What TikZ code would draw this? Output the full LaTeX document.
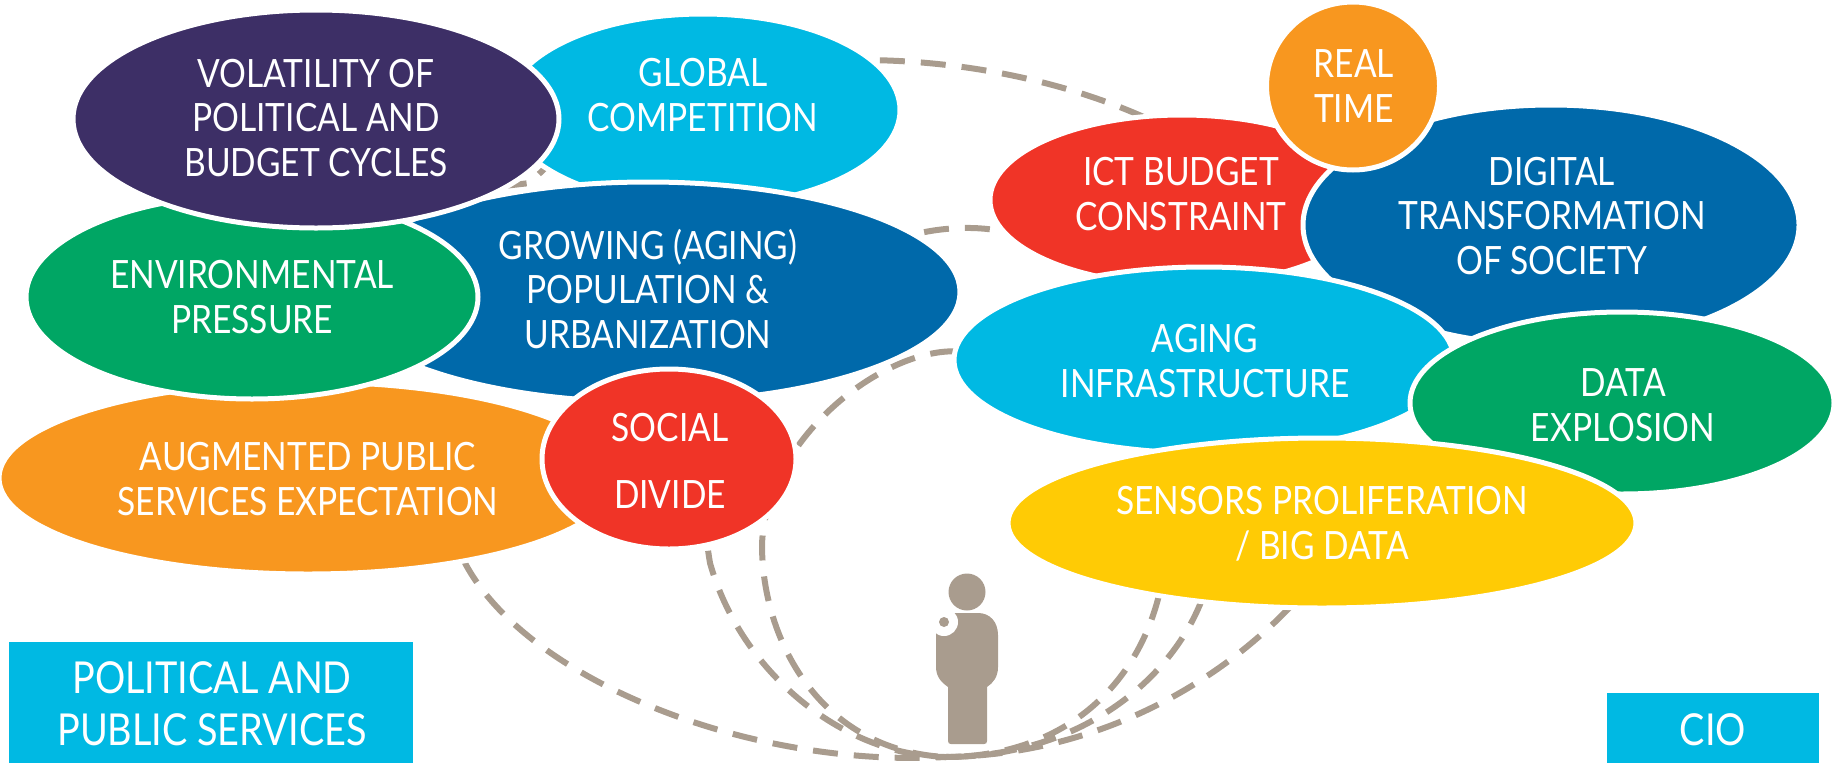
\documentclass[tikz,border=0pt]{standalone}
\usepackage{fontspec}
\setmainfont[FakeStretch=0.86]{Lato}
\usetikzlibrary{shapes.geometric,backgrounds}
\definecolor{cpurple}{HTML}{3D2F66}
\definecolor{ccyan}{HTML}{00B9E3}
\definecolor{cblue}{HTML}{0069AA}
\definecolor{cgreen}{HTML}{00A664}
\definecolor{corange}{HTML}{F8971F}
\definecolor{cred}{HTML}{F03427}
\definecolor{cyellow}{HTML}{FFCB05}
\definecolor{ctaupe}{HTML}{A99C8E}
\tikzset{
  bub/.style n args={3}{ellipse,draw=white,line width=5pt,outer sep=0pt,inner sep=0pt,fill=#3,minimum width=#1,minimum height=#2},
  txt/.style={text=white,align=center,inner sep=0pt,font=\fontsize{39}{44.7}\selectfont},
  txtbig/.style={text=white,align=center,inner sep=0pt,font=\fontsize{44}{52}\selectfont},
  boxx/.style={fill=ccyan,inner sep=0pt,outer sep=0pt,anchor=north west},
  arcline/.style={draw=ctaupe,line width=6pt,dash pattern=on 25pt off 16pt},
  figure/.style={fill=ctaupe}
}
\begin{document}
\begin{tikzpicture}[x=1pt,y=-1pt]
\useasboundingbox (0,0) rectangle (1835,763);
% left cluster
\node[bub={394}{192}{ccyan}] (glob) at (703,110) {};
\node[bub={624}{220}{cblue}] (grow) at (648,292) {};
\node[bub={618}{192}{corange}] (aug) at (308,478) {};
\node[bub={452}{204}{cgreen}] (env) at (252,297) {};
\node[bub={486}{218}{cpurple}] (vol) at (316,119) {};
\node[bub={254}{180}{cred}] (soc) at (669,459) {};
% right cluster
\node[bub={384}{170}{cred}] (ict) at (1182,200) {};
\node[bub={496}{240}{cblue}] (dig) at (1551,225) {};
\node[bub={173}{168}{corange}] (rt) at (1353,86) {};
\node[bub={500}{186}{ccyan}] (agi) at (1204,360) {};
\node[bub={424}{182}{cgreen}] (dat) at (1622,403) {};
\node[bub={628}{170}{cyellow}] (sen) at (1322,523) {};
% texts
\node[txt] (tvol) at (316,118) {VOLATILITY OF\\POLITICAL AND\\BUDGET CYCLES};
\node[txt] (tglob) at (703,95) {GLOBAL\\COMPETITION};
\node[txt] (tgrow) at (648,289) {GROWING (AGING)\\POPULATION \&\\URBANIZATION};
\node[txt] (tenv) at (252,297) {ENVIRONMENTAL\\PRESSURE};
\node[txt] (taug) at (308,479) {AUGMENTED PUBLIC\\SERVICES EXPECTATION};
\node[txt] (tsoc1) at (670,428) {SOCIAL};
\node[txt] (tsoc2) at (670,495) {DIVIDE};
\node[txt] (trt) at (1354,86) {REAL\\TIME};
\node[txt] (tict) at (1181,194) {ICT BUDGET\\CONSTRAINT};
\node[txt] (tdig) at (1552,216) {DIGITAL\\TRANSFORMATION\\OF SOCIETY};
\node[txt] (tagi) at (1205,361) {AGING\\INFRASTRUCTURE};
\node[txt] (tdat) at (1623,405) {DATA\\EXPLOSION};
\node[txt] (tsen) at (1322,524) {SENSORS PROLIFERATION\\/ BIG DATA};
% corner boxes
\node[boxx,minimum width=404pt,minimum height=121pt] (bl) at (9,642) {};
\node[txtbig] (tbl) at (212,704) {POLITICAL AND\\PUBLIC SERVICES};
\node[boxx,minimum width=212pt,minimum height=70pt] (br) at (1607,693) {};
\node[txtbig] (tbr) at (1713,730) {CIO};
% person
\coordinate (hub) at (945,757);
\node[circle,figure,minimum size=37pt,inner sep=0pt] (head) at (967,592) {};
\fill[figure] (936,633) -- (936,667) .. controls (936,677) and (942,683) .. (948,687) -- (948,741) .. controls (948,743) and (949,744) .. (951,744) -- (984,744) .. controls (986,744) and (987,743) .. (987,741) -- (987,687) .. controls (993,683) and (998,677) .. (998,667) -- (998,635) .. controls (998,622) and (990,613) .. (978,613) -- (950,613) -- cycle;
\fill[white] (944,622) circle (14);
\node[circle,figure,minimum size=10pt,inner sep=0pt] (hand) at (944,622) {};
% dashed arcs behind the bubbles
\begin{scope}[on background layer]
\draw[arcline] (ict.115) .. controls (1060,80) and (960,60) .. (860,60) .. controls (700,60) and (590,120) .. (530,183) -- (env.45);
\draw[arcline] (aug.332) .. controls (525,680) and (750,768) .. (hub);
\draw[arcline,dash phase=27pt] (ict.190) .. controls (870,205) and (670,330) .. (710,563) .. controls (740,670) and (840,755) .. (hub);
\draw[arcline] (agi.178) .. controls (880,350) and (765,440) .. (762,545) .. controls (762,640) and (820,750) .. (hub);
\draw[arcline] (sen.204) .. controls (1135,690) and (1060,757) .. (hub);
\draw[arcline] (sen.213) .. controls (1170,680) and (1080,757) .. (hub);
\draw[arcline] (sen.249) .. controls (1210,690) and (1090,755) .. (hub);
\end{scope}
\end{tikzpicture}
\end{document}
